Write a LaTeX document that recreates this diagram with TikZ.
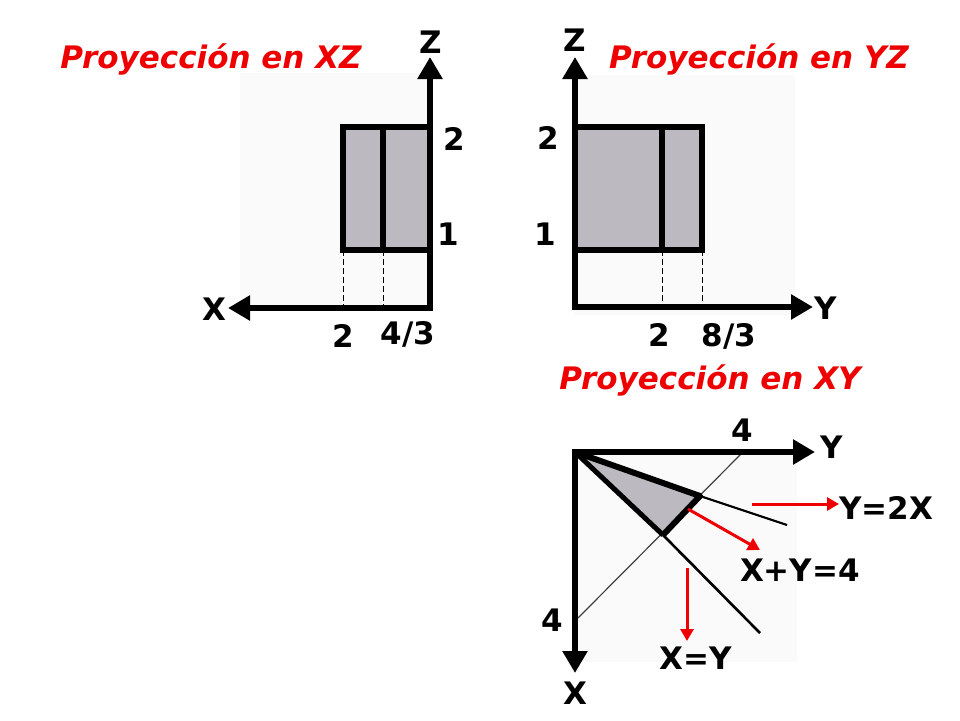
\documentclass[tikz,border=0pt]{standalone}
\usepackage{fontspec}
\setmainfont{DejaVu Sans}
\usetikzlibrary{arrows.meta}
\definecolor{gfill}{RGB}{188,186,192}
\definecolor{bgpanel}{RGB}{250,250,250}
\definecolor{tred}{RGB}{238,0,0}
\begin{document}
\begin{tikzpicture}[x=1pt,y=-1pt,
  lbl/.style={font=\fontsize{31}{34}\selectfont\bfseries, inner sep=0pt},
  ttl/.style={font=\fontsize{31}{34}\selectfont\bfseries\itshape, text=tred, inner sep=0pt, anchor=base},
  axes/.style={line width=6.5pt, {Triangle[length=22pt,width=24pt]}-{Triangle[length=22pt,width=24pt]}},
  box/.style={line width=6pt, fill=gfill, line join=miter},
  divider/.style={line width=6pt},
  guide/.style={line width=1pt, dash pattern=on 6pt off 3pt},
  thinline/.style={line width=1.2pt, black!75},
  edge/.style={line width=2.2pt},
  redarrow/.style={tred, line width=3pt, -{Triangle[length=12pt,width=13pt]}}]
\path[use as bounding box] (0,0) rectangle (960,720);
\fill[white] (0,0) rectangle (960,720);
% faint panels
\fill[bgpanel] (240,73) rectangle (433,310);
\fill[bgpanel] (575,75) rectangle (795,315);
\fill[bgpanel] (575,452) rectangle (797,662);

% ---------- XZ ----------
\coordinate (xzO) at (430,308);
\coordinate (xzX) at (228,308);
\coordinate (xzZ) at (430,57);
\coordinate (xzA) at (343,250);
\coordinate (xzB) at (430,127);
\coordinate (xzMt) at (383,127);
\coordinate (xzMb) at (383,250);
\coordinate (xzD1) at (343,308);
\coordinate (xzD2) at (383,308);
\draw[box] (xzA) rectangle (xzB);
\draw[divider] (xzMt) -- (xzMb);
\draw[guide] (xzA) -- (xzD1);
\draw[guide] (xzMb) -- (xzD2);
\draw[axes] (xzX) -- (xzO) -- (xzZ);
\node[ttl] (tXZ) at (211,68) {Proyección en XZ};
\node[lbl] (lXZz) at (431,42) {Z};
\node[lbl] (lXZx) at (214,309) {X};
\node[lbl] (lXZ2) at (454,139) {2};
\node[lbl] (lXZ1) at (448,234) {1};
\node[lbl, anchor=base] (lXZb2) at (343,347) {2};
\node[lbl, anchor=base] (lXZb43) at (408,344) {4/3};

% ---------- YZ ----------
\coordinate (yzO) at (575,307);
\coordinate (yzY) at (813,307);
\coordinate (yzZ) at (575,57);
\coordinate (yzA) at (575,250);
\coordinate (yzB) at (702,127);
\coordinate (yzMt) at (662,127);
\coordinate (yzMb) at (662,250);
\coordinate (yzC) at (702,250);
\coordinate (yzD1) at (662,307);
\coordinate (yzD2) at (702,307);
\draw[box] (yzA) rectangle (yzB);
\draw[divider] (yzMt) -- (yzMb);
\draw[guide] (yzMb) -- (yzD1);
\draw[guide] (yzC) -- (yzD2);
\draw[axes] (yzY) -- (yzO) -- (yzZ);
\node[ttl] (tYZ) at (759,68) {Proyección en YZ};
\node[lbl] (lYZz) at (575,40) {Z};
\node[lbl] (lYZy) at (826,308) {Y};
\node[lbl] (lYZ2) at (548,138) {2};
\node[lbl] (lYZ1) at (545,234) {1};
\node[lbl, anchor=base] (lYZb2) at (659,346) {2};
\node[lbl, anchor=base] (lYZb83) at (729,346) {8/3};

% ---------- XY ----------
\coordinate (xyO) at (575,452);
\coordinate (xyY) at (815,452);
\coordinate (xyX) at (575,673);
\coordinate (xyY4) at (742,453);
\coordinate (xyX4) at (578,618);
\coordinate (xyP) at (700,496);
\coordinate (xyQ) at (663,535);
\coordinate (xyPe) at (787,525);
\coordinate (xyQe) at (760,633);
\fill[gfill] (xyO) -- (xyP) -- (xyQ) -- cycle;
\draw[thinline] (xyY4) -- (xyX4);
\draw[edge] (xyP) -- (xyPe);
\draw[line width=2.6pt] (xyQ) -- (xyQe);
\draw[line width=6pt, line join=round] (xyO) -- (xyP) -- (xyQ);
\draw[line width=5pt] (xyO) -- (xyQ);
\draw[axes] (xyY) -- (xyO) -- (xyX);
\node[ttl] (tXY) at (710,389) {Proyección en XY};
\node[lbl] (lXYy4) at (742,430) {4};
\node[lbl] (lXYx4) at (552,620) {4};
\node[lbl] (lXYy) at (832,447) {Y};
\node[lbl] (lXYx) at (575,693) {X};
\node[lbl, anchor=west] (lY2X) at (839,508) {Y=2X};
\node[lbl] (lXY4) at (800,570) {X+Y=4};
\node[lbl] (lXeqY) at (696,658) {X=Y};
\coordinate (r1s) at (752,504);
\coordinate (r2s) at (688,509);
\coordinate (r2e) at (760,550);
\coordinate (r3s) at (687,568);
\coordinate (r3e) at (687,641);
\draw[redarrow] (r1s) -- (lY2X.west |- r1s);
\draw[redarrow] (r2s) -- (r2e);
\draw[redarrow] (r3s) -- (r3e);
\end{tikzpicture}
\end{document}
